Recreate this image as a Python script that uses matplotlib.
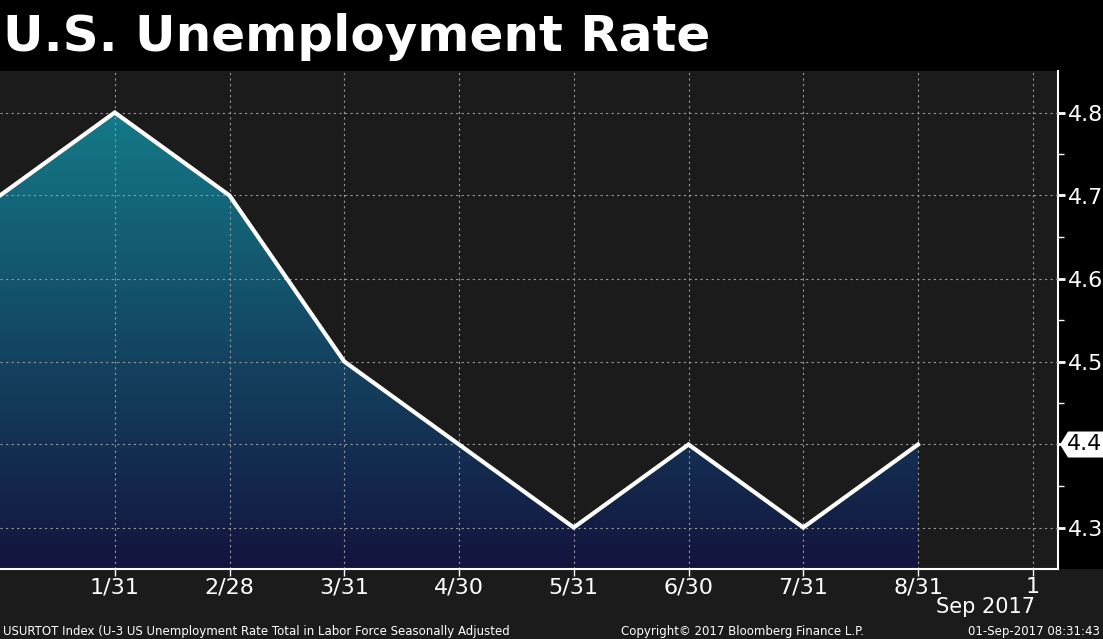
import matplotlib
matplotlib.use("Agg")
import matplotlib.pyplot as plt
import numpy as np
from matplotlib.patches import Polygon, Rectangle
from matplotlib.colors import LinearSegmentedColormap
import matplotlib.transforms as mtransforms

# data (month-end values, Dec 2016 .. Aug 2017)
x_labels = ["1/31", "2/28", "3/31", "4/30", "5/31", "6/30", "7/31", "8/31", "1"]
rate = [4.7, 4.8, 4.7, 4.5, 4.4, 4.3, 4.4, 4.3, 4.4]
y_ticks = [4.3, 4.4, 4.5, 4.6, 4.7, 4.8]
last_value = rate[-1]

x = np.arange(len(rate))

W, H = 1103, 639
fig = plt.figure(figsize=(W / 100, H / 100), dpi=100, facecolor="black")
# plot area: x 0..1058, y 71..569 (pixels)
ax = fig.add_axes([0, 1 - 569 / H, 1058 / W, (569 - 71) / H])
ax.set_facecolor("#1b1b1b")

# bottom grey band for the date labels / footer
fig.patches.append(Rectangle((0, 0), 1, 1 - 569 / H, transform=fig.transFigure,
                             facecolor="#1b1b1b", edgecolor="none", zorder=-5))

ymin, ymax = 4.25, 4.85
xmax = 1058 / 114.75
ax.set_xlim(0, xmax)
ax.set_ylim(ymin, ymax)

# gradient fill under the line
cmap = LinearSegmentedColormap.from_list("fill", ["#14143e", "#137a88"])
grad = np.linspace(0, 1, 256).reshape(-1, 1)
img = ax.imshow(grad, cmap=cmap, origin="lower", aspect="auto",
                extent=[0, x[-1], ymin, 4.8], zorder=1)
verts = [(x[0], ymin)] + list(zip(x, rate)) + [(x[-1], ymin)]
clip = Polygon(verts, closed=True, facecolor="none", edgecolor="none")
ax.add_patch(clip)
img.set_clip_path(clip)

ax.plot(x, rate, color="white", lw=3, solid_joinstyle="miter", zorder=4,
        clip_on=False)

# grid
ax.set_xticks(np.arange(1, len(x_labels) + 1))
ax.set_xticklabels(x_labels)
ax.set_yticks(y_ticks)
ax.set_yticks(np.arange(4.35, 4.85, 0.1), minor=True)
ax.grid(True, which="major", color="#9a9a9a", linestyle=(0, (2, 3)), lw=0.8,
        zorder=2)
ax.set_axisbelow(False)

for s in ["top", "left"]:
    ax.spines[s].set_visible(False)
ax.spines["bottom"].set_color("white")
ax.spines["right"].set_color("white")
ax.spines["bottom"].set_linewidth(1.5)
ax.spines["right"].set_linewidth(1.5)
ax.spines["bottom"].set_zorder(5)

ax.yaxis.tick_right()
ax.tick_params(axis="y", which="major", colors="white", labelsize=16,
               length=5, width=2, direction="out", pad=2)
ax.tick_params(axis="y", which="minor", colors="white", length=4, width=1,
               direction="out")
ax.tick_params(axis="x", colors="white", labelsize=16, length=5, width=1,
               direction="out", pad=1)

# hide the 4.4 tick label and draw the last-value box instead
for t in ax.get_yticklabels():
    if t.get_text() in ("4.4",):
        t.set_visible(False)

trans = mtransforms.blended_transform_factory(ax.transAxes, ax.transData)
px = 1 / 1058
py = 0.6 / 498
tip = 1 + 2 * px
left = 1 + 10 * px
right = 1 + 46 * px
h = 13 * py
box = Polygon([(tip, last_value), (left, last_value + h), (right, last_value + h),
               (right, last_value - h), (left, last_value - h)],
              closed=True, transform=trans, facecolor="white", edgecolor="none",
              clip_on=False, zorder=6)
ax.add_patch(box)
ax.text(1 + 27 * px, last_value, "4.4", transform=trans, color="black",
        fontsize=16, ha="center", va="center", zorder=7, clip_on=False)

# title and footer
fig.text(3 / W, 1 - 37 / H, "U.S. Unemployment Rate", color="white",
         fontsize=36, fontweight="bold", ha="left", va="center")
fig.text(1035 / W, 1 - 607 / H, "Sep 2017", color="white", fontsize=15,
         ha="right", va="center")
fig.text(3 / W, 1 - 631 / H,
         "USURTOT Index (U-3 US Unemployment Rate Total in Labor Force Seasonally Adjusted",
         color="white", fontsize=8.5, ha="left", va="center")
fig.text(621 / W, 1 - 631 / H, "Copyright\u00a9 2017 Bloomberg Finance L.P.",
         color="white", fontsize=8.5, ha="left", va="center")
fig.text(1100 / W, 1 - 631 / H, "01-Sep-2017 08:31:43", color="white",
         fontsize=8.5, ha="right", va="center")

fig.savefig("out.png", dpi=100, facecolor=fig.get_facecolor())
